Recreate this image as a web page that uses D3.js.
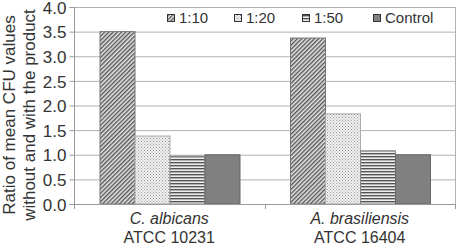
<!DOCTYPE html>
<html><head><meta charset="utf-8">
<script src="https://cdn.jsdelivr.net/npm/d3@7"></script>
<style>body{margin:0;background:#fff}svg{display:block;font-family:Arial,"Liberation Sans",sans-serif}</style>
</head><body><svg id="c" width="461" height="246"></svg>
<script>
const categories = ["C. albicans|ATCC 10231", "A. brasiliensis|ATCC 16404"];
const seriesNames = ["1:10", "1:20", "1:50", "Control"];
const v110 = [3.5, 3.37];
const v120 = [1.38, 1.83];
const v150 = [0.97, 1.08];
const vControl = [1.0, 1.0];
const yTicks = [0, 0.5, 1, 1.5, 2, 2.5, 3, 3.5, 4];
const seriesValues = [v110, v120, v150, vControl];

const svg = d3.select("#c");
const L = 74, R = 455, T = 7, B = 204;
const defs = svg.append("defs");
// patterns
const p1 = defs.append("pattern").attr("id","p110").attr("patternUnits","userSpaceOnUse").attr("width",3).attr("height",3).attr("patternTransform","rotate(45)");
p1.append("rect").attr("width",3).attr("height",3).attr("fill","#e6e6e6");
p1.append("rect").attr("width",1.4).attr("height",3).attr("fill","#555");
const p2 = defs.append("pattern").attr("id","p120").attr("patternUnits","userSpaceOnUse").attr("width",3).attr("height",3);
p2.append("rect").attr("width",3).attr("height",3).attr("fill","#f0f0f0");
p2.append("rect").attr("width",1).attr("height",1).attr("fill","#999");
p2.append("rect").attr("x",1.5).attr("y",1.5).attr("width",1).attr("height",1).attr("fill","#aaa");
const p3 = defs.append("pattern").attr("id","p150").attr("patternUnits","userSpaceOnUse").attr("width",3).attr("height",3);
p3.append("rect").attr("width",3).attr("height",3).attr("fill","#eee");
p3.append("rect").attr("width",3).attr("height",1.4).attr("fill","#555");
const fills = ["url(#p110)","url(#p120)","url(#p150)","#808080"];
const strokes = ["#777","#aaa","#888","#666"];

const y = d3.scaleLinear().domain([0,4]).range([B,T]);
const x0 = d3.scaleBand().domain(categories).range([L,R]).padding(0);
const x1 = d3.scaleBand().domain(seriesNames).range([26,166]).padding(0);

// gridlines
svg.append("g").selectAll("line").data(yTicks).join("line")
  .attr("x1",L).attr("x2",R).attr("y1",d=>y(d)+0.5).attr("y2",d=>y(d)+0.5)
  .attr("stroke","#b3b3b3").attr("stroke-width",1);
// right border
svg.append("line").attr("x1",R+0.5).attr("x2",R+0.5).attr("y1",T).attr("y2",B+1).attr("stroke","#b3b3b3");

// bars
const g = svg.append("g");
categories.forEach((c,ci)=>{
  seriesNames.forEach((s,si)=>{
    const v = seriesValues[si][ci];
    g.append("rect").attr("x",x0(c)+x1(s)).attr("y",y(v)).attr("width",x1.bandwidth()).attr("height",B-y(v))
      .attr("fill",fills[si]).attr("stroke",strokes[si]).attr("stroke-width",1);
  });
});

// y axis
const ya = svg.append("g").attr("transform",`translate(${L+0.5},0)`).call(d3.axisLeft(y).tickValues(yTicks).tickFormat(d3.format(".1f")).tickSize(5).tickPadding(3));
ya.select(".domain").attr("stroke","#999").attr("d",`M-5,${T+0.5}H0V${B+0.5}H-5`);
ya.selectAll(".tick line").attr("stroke","#999");
ya.selectAll("text").attr("font-size","17px").attr("fill","#333").attr("dy","0.36em").attr("font-family","Arial,'Liberation Sans',sans-serif");

// x axis
svg.append("line").attr("x1",L).attr("x2",R).attr("y1",B+0.5).attr("y2",B+0.5).attr("stroke","#999");
svg.append("g").selectAll("line").data([L, L+x0.bandwidth(), R]).join("line")
  .attr("x1",d=>Math.round(d)+0.5).attr("x2",d=>Math.round(d)+0.5).attr("y1",B).attr("y2",B+5).attr("stroke","#999");
const xl = svg.append("g").selectAll("text").data(categories).join("text")
  .attr("x",d=>x0(d)+x0.bandwidth()/2).attr("text-anchor","middle").attr("fill","#333").attr("font-size","16px");
xl.append("tspan").attr("x",d=>x0(d)+x0.bandwidth()/2).attr("y",224).attr("font-style","italic").text(d=>d.split("|")[0]);
xl.append("tspan").attr("x",d=>x0(d)+x0.bandwidth()/2).attr("y",243).text(d=>d.split("|")[1]);

// y title
const yt = svg.append("text").attr("transform","translate(0,115) rotate(-90)").attr("text-anchor","middle").attr("fill","#333").attr("font-size","17px");
yt.append("tspan").attr("x",0).attr("y",15).text("Ratio of mean CFU values");
yt.append("tspan").attr("x",0).attr("y",35).text("without and with the product");

// legend
const legX = [167, 234, 302, 373];
const lg = svg.append("g");
seriesNames.forEach((s,i)=>{
  lg.append("rect").attr("x",legX[i]+0.5).attr("y",14.5).attr("width",7).attr("height",7).attr("fill",fills[i]).attr("stroke","#333").attr("stroke-width",1);
  lg.append("text").attr("x",legX[i]+12).attr("y",23).attr("font-size","15px").attr("fill","#333").text(s);
});
</script></body></html>
